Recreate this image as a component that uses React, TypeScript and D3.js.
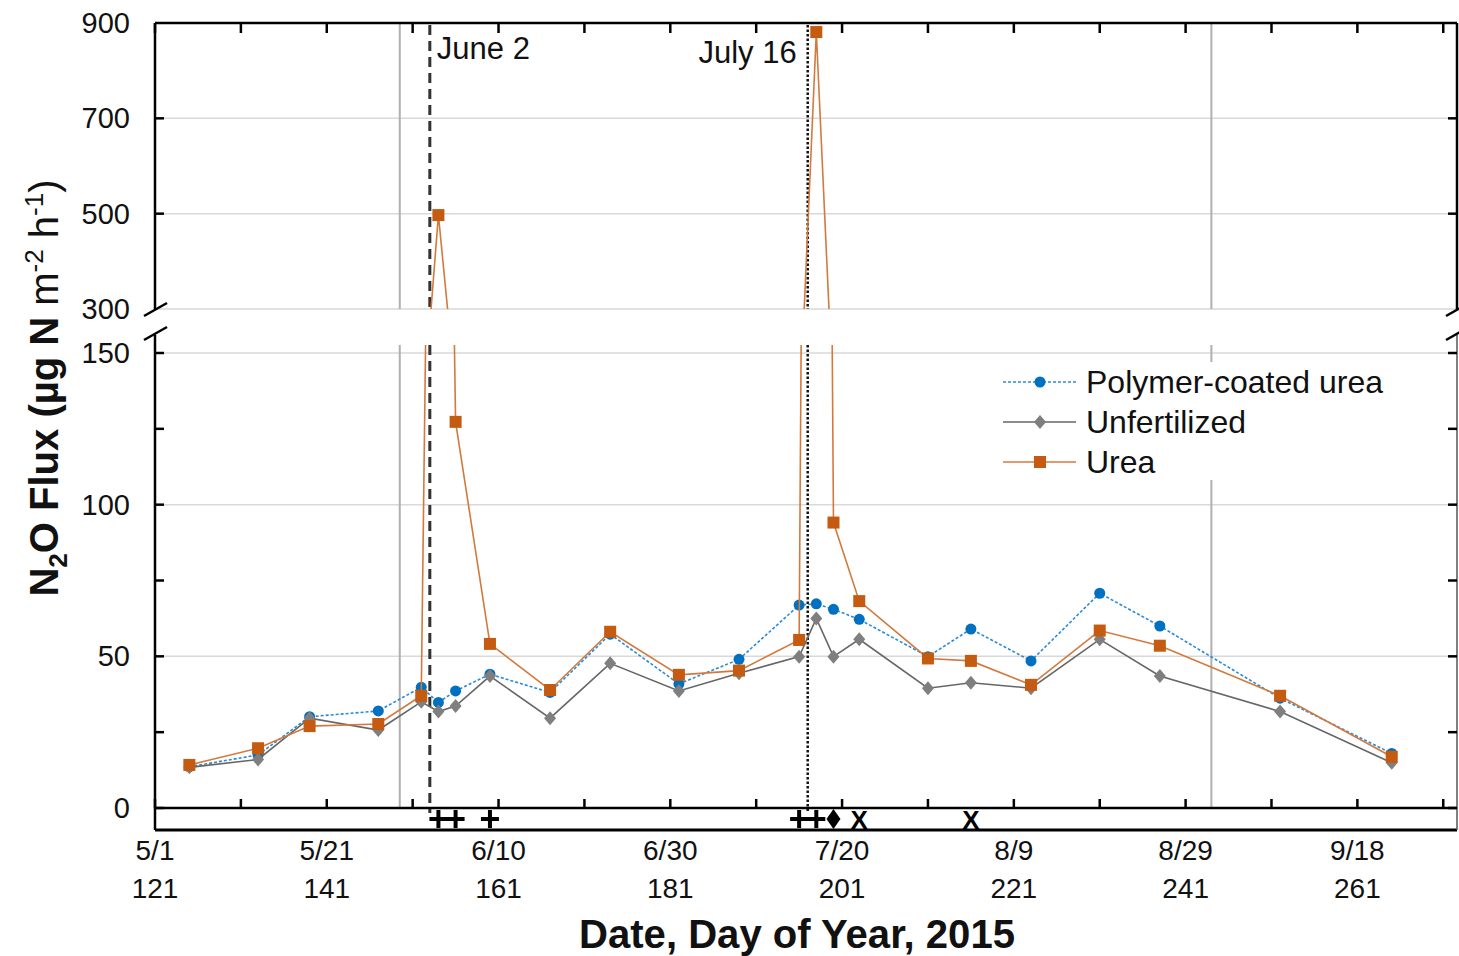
import React from 'react';
import * as d3 from 'd3';

// sampling days (day of year, 2015)
const days = [125, 133, 139, 147, 152, 154, 156, 160, 167, 174, 182, 189, 196, 198, 200, 203, 211, 216, 223, 231, 238, 252, 265];
const polymerCoated = [13.6, 17.5, 30.1, 32.0, 39.8, 34.8, 38.6, 44.1, 38.1, 57.3, 40.9, 49.0, 66.9, 67.3, 65.5, 62.2, 49.9, 59.0, 48.5, 70.8, 60.0, 36.2, 18.0];
const unfertilized = [13.4, 16.0, 29.6, 25.7, 35.0, 31.8, 33.6, 43.5, 29.6, 47.7, 38.6, 44.4, 49.9, 62.5, 49.9, 55.6, 39.5, 41.3, 39.5, 55.6, 43.5, 31.8, 14.9];
const urea = [14.2, 19.7, 27.0, 27.7, 37.0, 497, 127.3, 54.1, 38.9, 58.1, 43.9, 45.3, 55.4, 881, 94.1, 68.2, 49.3, 48.5, 40.6, 58.5, 53.5, 37.0, 16.9];

const tickDays = [121, 141, 161, 181, 201, 221, 241, 261];
const tickDates = ['5/1', '5/21', '6/10', '6/30', '7/20', '8/9', '8/29', '9/18'];
const upperTicks = [900, 700, 500, 300];
const lowerTicks = [0, 50, 100, 150];

// events along the strip under the axis
const eventDays = [154, 156, 160, 196, 198, 200, 203, 216];
const eventSymbols = ['+', '+', '+', '+', '+', 'diamond', 'X', 'X'];

const fertDays = [153, 197];
const fertLabels = ['June 2', 'July 16'];
const grayLineDays = [149.5, 244];

const W = 1459;
const H = 956;
const FONT = '"Liberation Sans", Arial, sans-serif';

const left = 155;
const right = 1457;
const upTop = 23;
const upBottom = 309;
const lowTop = 345;
const lowBottom = 808;
const stripBottom = 830;

const x = d3.scaleLinear().domain([121, 272.6]).range([left, right]);
const yU = d3.scaleLinear().domain([300, 900]).range([upBottom, upTop]);
const yL = d3.scaleLinear().domain([0, 150]).range([lowBottom, 353]);

const series = [
  { name: 'Polymer-coated urea', values: polymerCoated, color: '#0070C0', line: '#2a8ad6', dash: '3,2', marker: 'circle' },
  { name: 'Unfertilized', values: unfertilized, color: '#7F7F7F', line: '#666666', dash: null, marker: 'diamond' },
  { name: 'Urea', values: urea, color: '#C55A11', line: '#D27A3E', dash: null, marker: 'square' },
];

const Marker = ({ type, cx, cy, color }) => {
  if (type === 'circle') return <circle cx={cx} cy={cy} r={5.5} fill={color} />;
  if (type === 'diamond')
    return <path d={`M${cx},${cy - 7}L${cx + 6},${cy}L${cx},${cy + 7}L${cx - 6},${cy}Z`} fill={color} />;
  return <rect x={cx - 6} y={cy - 6} width={12} height={12} fill={color} />;
};

const Panel = ({ y, clipId }) => {
  const line = d3.line<number>().x((_, i) => x(days[i])).y(v => y(v));
  return (
    <g clipPath={`url(#${clipId})`}>
      {series.map(s => (
        <g key={s.name}>
          <path d={line(s.values) || ''} fill="none" stroke={s.line} strokeWidth={1.6}
            strokeDasharray={s.dash || undefined} />
          {s.values.map((v, i) => (
            <Marker key={i} type={s.marker} cx={x(days[i])} cy={y(v)} color={s.color} />
          ))}
        </g>
      ))}
    </g>
  );
};

const App = () => {
  const tenDays = d3.range(121, 272, 10);
  const lowerMinor = d3.range(0, 151, 25);
  const upperMinor = [700, 500];
  const symY = 819;

  return (
    <svg width={W} height={H} style={{ position: 'absolute', left: 0, top: 0, background: 'white' }} fontFamily={FONT}>
      <defs>
        <clipPath id="clipU"><rect x={left} y={upTop} width={right - left} height={upBottom - upTop} /></clipPath>
        <clipPath id="clipL"><rect x={left} y={lowTop} width={right - left} height={lowBottom - lowTop} /></clipPath>
      </defs>

      {/* grid */}
      {[700, 500, 300].map(v => (
        <line key={'gu' + v} x1={left} x2={right} y1={yU(v)} y2={yU(v)} stroke="#d9d9d9" strokeWidth={1.5} />
      ))}
      {[150, 100, 50].map(v => (
        <line key={'gl' + v} x1={left} x2={right} y1={yL(v)} y2={yL(v)} stroke="#d9d9d9" strokeWidth={1.5} />
      ))}

      {/* gray reference lines */}
      {grayLineDays.map(d => (
        <g key={'g' + d} stroke="#b0b0b0" strokeWidth={2}>
          <line x1={x(d)} x2={x(d)} y1={upTop} y2={upBottom} />
          <line x1={x(d)} x2={x(d)} y1={lowTop} y2={lowBottom} />
        </g>
      ))}

      {/* fertilization dates */}
      {fertDays.map((d, i) => (
        <g key={'f' + d} stroke={i === 0 ? '#333' : '#111'} strokeWidth={i === 0 ? 3 : 2.5}
          strokeDasharray={i === 0 ? '10,6' : '2.5,2'}>
          <line x1={x(d)} x2={x(d)} y1={upTop + 2} y2={upBottom} />
          <line x1={x(d)} x2={x(d)} y1={lowTop} y2={lowBottom + 5} />
        </g>
      ))}
      <text x={x(fertDays[0]) + 7} y={59} fontSize={31} fill="#111">{fertLabels[0]}</text>
      <text x={x(fertDays[1]) - 11} y={63} fontSize={31} fill="#111" textAnchor="end">{fertLabels[1]}</text>

      <Panel y={yL} clipId="clipL" />
      <Panel y={yU} clipId="clipU" />

      {/* frame */}
      <g stroke="#000" strokeWidth={2.5} fill="none">
        <line x1={left} x2={right} y1={upTop} y2={upTop} />
        <line x1={left} x2={left} y1={upTop} y2={upBottom} />
        <line x1={right} x2={right} y1={upTop} y2={upBottom} />
        <line x1={left} x2={left} y1={lowTop - 10} y2={stripBottom} />
        <line x1={left} x2={right} y1={lowBottom} y2={lowBottom} />
        <line x1={left} x2={right} y1={stripBottom} y2={stripBottom} strokeWidth={3} />
      </g>
      <line x1={right} x2={right} y1={lowTop - 10} y2={stripBottom} stroke="#555" strokeWidth={1.5} />

      {/* axis breaks */}
      {[left, right].map(px => (
        <g key={'b' + px} stroke="#000" strokeWidth={2.5}>
          <line x1={px - 11} y1={upBottom + 7} x2={px + 12} y2={upBottom - 6} />
          <line x1={px - 11} y1={lowTop - 5} x2={px + 12} y2={lowTop - 18} />
        </g>
      ))}

      {/* x ticks */}
      {tenDays.map(d => (
        <g key={'t' + d} stroke="#000" strokeWidth={2.5}>
          <line x1={x(d)} x2={x(d)} y1={upTop} y2={upTop + 10} />
          <line x1={x(d)} x2={x(d)} y1={lowBottom} y2={lowBottom - 9} />
        </g>
      ))}

      {/* y ticks */}
      {upperMinor.map(v => (
        <g key={'yu' + v} stroke="#000" strokeWidth={2.5}>
          <line x1={left} x2={left + 9} y1={yU(v)} y2={yU(v)} />
          <line x1={right} x2={right - 9} y1={yU(v)} y2={yU(v)} />
        </g>
      ))}
      {lowerMinor.map(v => (
        <g key={'yl' + v} stroke="#000" strokeWidth={2.5}>
          <line x1={left} x2={left + 9} y1={yL(v)} y2={yL(v)} />
          <line x1={right} x2={right - 9} y1={yL(v)} y2={yL(v)} />
        </g>
      ))}

      {/* y tick labels */}
      {upperTicks.map(v => (
        <text key={'lu' + v} x={130} y={yU(v) + 10} fontSize={29} textAnchor="end" fill="#111">{v}</text>
      ))}
      {lowerTicks.map(v => (
        <text key={'ll' + v} x={130} y={yL(v) + 10} fontSize={29} textAnchor="end" fill="#111">{v}</text>
      ))}

      {/* x tick labels */}
      {tickDays.map((d, i) => (
        <g key={'xl' + d} fontSize={28} textAnchor="middle" fill="#111">
          <text x={x(d)} y={860}>{tickDates[i]}</text>
          <text x={x(d)} y={898}>{d}</text>
        </g>
      ))}

      {/* event symbols */}
      {eventDays.map((d, i) => {
        const s = eventSymbols[i];
        const cx = x(d);
        if (s === 'diamond')
          return <path key={'e' + i} d={`M${cx},${symY - 10}L${cx + 7},${symY}L${cx},${symY + 10}L${cx - 7},${symY}Z`} fill="#000" />;
        if (s === '+')
          return (
            <g key={'e' + i} stroke="#000" strokeWidth={4}>
              <line x1={cx - 9} x2={cx + 9} y1={symY} y2={symY} />
              <line x1={cx} x2={cx} y1={symY - 9} y2={symY + 9} />
            </g>
          );
        return (
          <text key={'e' + i} x={cx} y={symY + 9.5} fontSize={26} fontWeight="bold" textAnchor="middle" fill="#000">{s}</text>
        );
      })}

      {/* legend */}
      <rect x={995} y={362} width={420} height={118} fill="white" />
      {series.map((s, i) => {
        const ly = 382 + i * 40;
        return (
          <g key={'lg' + s.name}>
            <line x1={1003} x2={1076} y1={ly} y2={ly} stroke={s.line} strokeWidth={1.6} strokeDasharray={s.dash || undefined} />
            <Marker type={s.marker} cx={1040} cy={ly} color={s.color} />
            <text x={1086} y={ly + 11} fontSize={32} fill="#111">{s.name}</text>
          </g>
        );
      })}

      {/* axis titles */}
      <text x={797} y={948} fontSize={40} fontWeight="bold" textAnchor="middle" fill="#111"
        textLength={436} lengthAdjust="spacingAndGlyphs">Date, Day of  Year, 2015</text>
      <text transform="translate(58,388) rotate(-90)" fontSize={40} textAnchor="middle" fill="#111">
        <tspan fontWeight="bold">N</tspan>
        <tspan fontWeight="bold" fontSize={26} dy={9}>2</tspan>
        <tspan fontWeight="bold" dy={-9}>O Flux (µg  N  </tspan>
        <tspan>m</tspan>
        <tspan fontSize={26} dy={-15}>-2</tspan>
        <tspan dy={15}> h</tspan>
        <tspan fontSize={26} dy={-15}>-1</tspan>
        <tspan dy={15}>)</tspan>
      </text>
    </svg>
  );
};

export default App;
